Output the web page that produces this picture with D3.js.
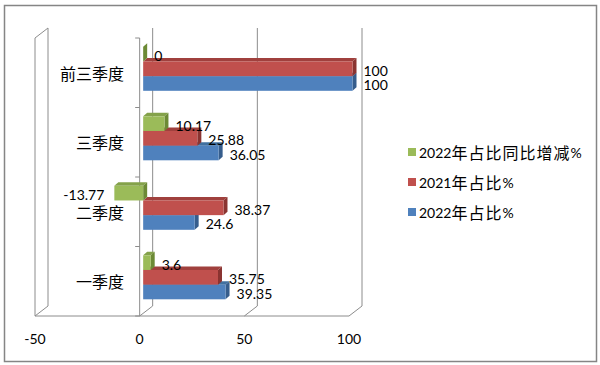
<!DOCTYPE html>
<html><head><meta charset="utf-8">
<script src="https://cdn.jsdelivr.net/npm/d3@7"></script>
<style>
html,body{margin:0;padding:0;background:#fff;}
svg{display:block;}
text{font-family:Lato,"Noto Sans CJK SC",sans-serif;fill:#000;}
.cjk{font-family:"Noto Sans CJK SC",sans-serif;}
</style></head>
<body>
<svg id="chart" width="600" height="365"></svg>
<script>
const categories = ["前三季度", "三季度", "二季度", "一季度"];
const seriesNames = ["2022年占比同比增减%", "2021年占比%", "2022年占比%"];
const change2022 = [0, 10.17, -13.77, 3.6];
const share2021 = [100, 25.88, 38.37, 35.75];
const share2022 = [100, 36.05, 24.6, 39.35];
const xTickValues = [-50, 0, 50, 100];

const seriesValues = [change2022, share2021, share2022];
const colors = [
  {front:"#9bbb59", top:"#84a24a", side:"#6c8a35"},
  {front:"#c0504d", top:"#a0403d", side:"#8a3431"},
  {front:"#4f81bd", top:"#41709f", side:"#365d8c"}
];

const svg = d3.select("#chart");
const W = 600, H = 365;
const gridColor = "#8c8c8c";

// outer border
svg.append("rect").attr("x",4.5).attr("y",5.5).attr("width",592).attr("height",356)
  .attr("fill","#fff").attr("stroke","#858585").attr("stroke-width",1.5);

// 3D geometry
const depthDx = 13, depthDy = -10;   // back wall offset
const barOffDx = 3.5, barOffDy = -2.7; // bar front face depth
const barDx = 4, barDy = -3.5;         // bar thickness
const frontTop = 38, frontBottom = 316;

const x = d3.scaleLinear().domain([-50, 100]).range([35, 349]);
const y = d3.scaleBand().domain(categories).range([frontTop, frontBottom]);
const inner = d3.scaleBand().domain(seriesNames).range([11.5, 11.5 + 44]);

const g = svg.append("g");

// back wall gridlines
xTickValues.forEach(v => {
  g.append("line").attr("x1", x(v)+depthDx).attr("x2", x(v)+depthDx)
    .attr("y1", frontTop+depthDy).attr("y2", frontBottom+depthDy)
    .attr("stroke", gridColor).attr("stroke-width",1);
  // floor diagonals
  g.append("line").attr("x1", x(v)).attr("y1", frontBottom)
    .attr("x2", x(v)+depthDx).attr("y2", frontBottom+depthDy)
    .attr("stroke", gridColor).attr("stroke-width",1);
});
// left wall front edge and top diagonal
g.append("line").attr("x1", x(-50)).attr("x2", x(-50)).attr("y1", frontTop).attr("y2", frontBottom)
  .attr("stroke", gridColor);
g.append("line").attr("x1", x(-50)).attr("y1", frontTop).attr("x2", x(-50)+depthDx).attr("y2", frontTop+depthDy)
  .attr("stroke", gridColor);
// front bottom axis line
g.append("line").attr("x1", x(-50)).attr("x2", x(100)).attr("y1", frontBottom).attr("y2", frontBottom)
  .attr("stroke", gridColor);
// category axis at 0 with ticks
g.append("line").attr("x1", x(0)).attr("x2", x(0)).attr("y1", frontTop).attr("y2", frontBottom)
  .attr("stroke", gridColor);
const boundaries = categories.map(c => y(c)).concat([frontBottom]);
boundaries.forEach(b => {
  g.append("line").attr("x1", x(0)-4.5).attr("x2", x(0)).attr("y1", b).attr("y2", b)
    .attr("stroke", gridColor);
});

// x tick labels
xTickValues.forEach(v => {
  g.append("text").attr("x", x(v)).attr("y", 338).attr("text-anchor","middle")
    .attr("dominant-baseline","central").attr("font-size",14).text(v);
});

// category labels
categories.forEach(c => {
  g.append("text").attr("class","cjk").attr("x", 124).attr("y", y(c)+y.bandwidth()/2)
    .attr("text-anchor","end").attr("dominant-baseline","central").attr("font-size",16).text(c);
});

// bars
const bars = g.append("g");
function drawBar(cat, si) {
  const v = seriesValues[si][categories.indexOf(cat)];
  const xa = Math.min(x(0), x(v)) + barOffDx;
  const xb = Math.max(x(0), x(v)) + barOffDx;
  const yt = y(cat) + inner(seriesNames[si]) + barOffDy;
  const h = inner.bandwidth();
  const c = colors[si];
  const bg = bars.append("g");
  bg.append("polygon").attr("points", [[xa,yt],[xb,yt],[xb+barDx,yt+barDy],[xa+barDx,yt+barDy]].join(" "))
    .attr("fill", c.top);
  bg.append("polygon").attr("points", [[xb,yt],[xb+barDx,yt+barDy],[xb+barDx,yt+h+barDy],[xb,yt+h]].join(" "))
    .attr("fill", c.side);
  bg.append("rect").attr("x", xa).attr("y", yt).attr("width", xb-xa).attr("height", h)
    .attr("fill", c.front);
}
categories.forEach(cat => {
  [2,1,0].forEach(si => drawBar(cat, si));
});

// data labels
categories.forEach((cat, ci) => {
  seriesNames.forEach((s, si) => {
    const v = seriesValues[si][ci];
    const yc = y(cat) + inner(s) + barOffDy + inner.bandwidth()/2 + 1.5;
    const t = g.append("text").attr("y", yc).attr("dominant-baseline","central")
      .attr("font-size",14).text(v);
    if (v < 0) t.attr("x", x(v)+barOffDx-10).attr("text-anchor","end");
    else t.attr("x", x(v)+barOffDx+11).attr("text-anchor","start");
  });
});

// legend
const legendOrder = [0,1,2];
legendOrder.forEach((si, i) => {
  const ly = 152 + i*30;
  svg.append("rect").attr("x", 408).attr("y", ly-4).attr("width", 8).attr("height", 8)
    .attr("fill", colors[si].front);
  const t = svg.append("text").attr("x", 419).attr("y", ly).attr("dominant-baseline","central")
    .attr("font-size",14);
  const parts = seriesNames[si].match(/[\u4e00-\u9fff]+|[^\u4e00-\u9fff]+/g);
  parts.forEach(p => {
    const isCjk = /[\u4e00-\u9fff]/.test(p);
    const ts = t.append("tspan").text(p);
    if (isCjk) ts.attr("class","cjk").attr("font-size",16).attr("letter-spacing",1);
  });
});
</script>
</body></html>
